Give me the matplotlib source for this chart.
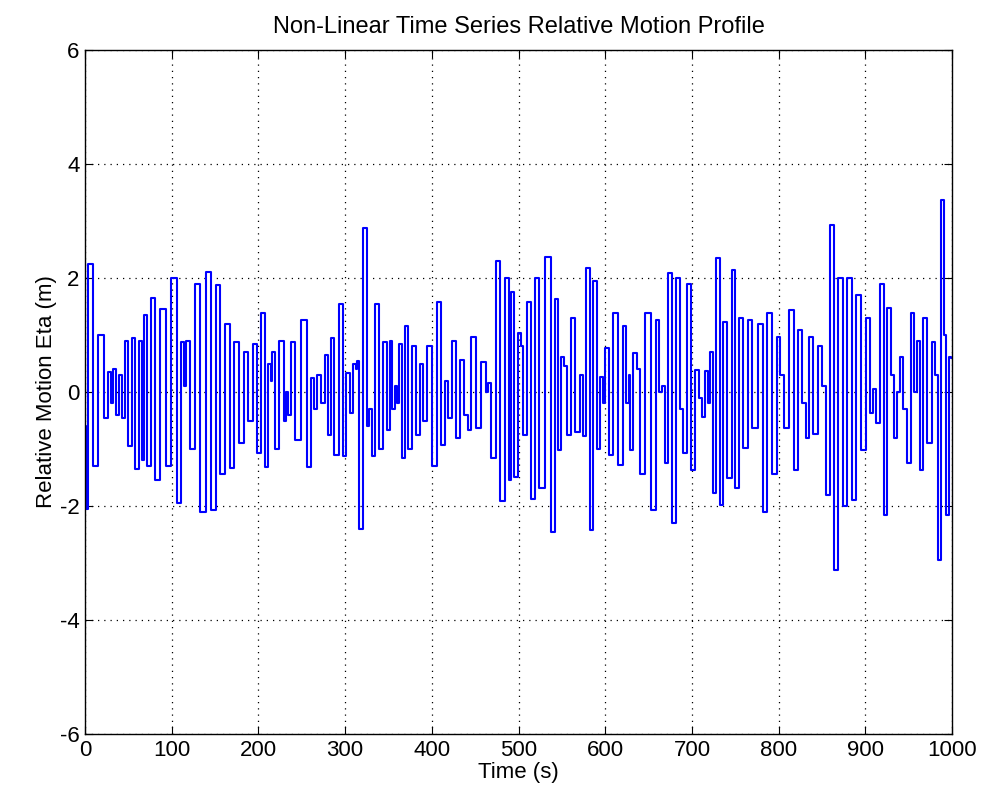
import matplotlib
matplotlib.use('Agg')
import matplotlib.pyplot as plt

# Extrema of the relative motion signal (time in s, eta in m)
t_0 = [0, 1.5, 6, 11.5, 19, 24, 28, 31, 34, 37, 41, 44, 48, 52, 56, 60, 64, 67, 70, 74, 79, 83, 90, 96, 103]
eta_0 = [-0.6, -2.05, 2.25, -1.3, 1.0, -0.45, 0.35, -0.2, 0.4, -0.4, 0.3, -0.45, 0.9, -0.95, 0.95, -1.35, 0.9, -1.2, 1.35, -1.3, 1.65, -1.55, 1.45, -1.3, 2.0]

t_1 = [109, 113, 116, 118, 123, 130, 136, 142, 148, 153, 159, 165, 169, 174, 180, 186, 191, 196, 200, 205]
eta_1 = [-1.95, 0.88, 0.1, 0.9, -1.0, 1.9, -2.1, 2.1, -2.07, 1.88, -1.43, 1.2, -1.34, 0.88, -0.9, 0.7, -0.5, 0.85, -1.07, 1.38]

t_2 = [209.5, 213, 215, 217, 221, 227, 231, 233, 235, 239, 246, 253, 258, 263, 266, 270, 274, 279, 282, 285, 290, 295, 299]
eta_2 = [-1.31, 0.5, 0.2, 0.7, -1.0, 0.9, -0.5, 0.0, -0.4, 0.88, -0.84, 1.26, -1.31, 0.25, -0.3, 0.3, -0.2, 0.65, -0.75, 0.94, -1.1, 1.55, -1.13]

t_3 = [304, 308, 311, 313, 315, 318, 323, 327, 329, 332, 336, 342, 346, 350, 353, 356, 359, 361, 364, 367, 370, 375, 379, 385, 388, 391, 397, 404]
eta_3 = [0.33, -0.37, 0.5, 0.4, 0.55, -2.4, 2.87, -0.6, -0.3, -1.13, 1.55, -1.0, 0.88, -0.67, 0.9, -0.3, 0.1, -0.2, 0.85, -1.16, 1.15, -1.0, 0.8, -0.75, 0.5, -0.5, 0.8, -1.3]

t_4 = [409, 413, 417, 421, 426, 430, 434, 440, 443, 448, 453, 460, 464, 466, 471, 476, 481, 487, 490, 493, 497]
eta_4 = [1.58, -0.93, 0.2, -0.46, 0.9, -0.8, 0.56, -0.4, -0.67, 0.97, -0.64, 0.53, 0.0, 0.15, -1.15, 2.29, -1.92, 2.0, -1.55, 1.76, -1.5]

t_5 = [501, 504, 507, 512, 516, 521, 527, 534.5, 540, 544, 548, 551, 554, 557.5, 563, 568, 573, 575.6, 580, 584, 588, 592, 596, 598, 602]
eta_5 = [1.03, 0.8, -0.75, 1.58, -1.87, 2.0, -1.69, 2.37, -2.45, 1.64, -1.02, 0.62, 0.45, -0.75, 1.3, -0.7, 0.3, -0.78, 2.17, -2.42, 1.94, -1.0, 0.27, -0.2, 0.77]

t_6 = [606.7, 611.7, 617.5, 622.5, 626, 628, 630, 635, 638, 642.5, 649, 656, 660, 664, 667, 670, 675, 679, 684, 688, 692, 697, 701]
eta_6 = [-1.1, 1.38, -1.28, 1.15, -0.2, 0.3, -1.02, 0.68, 0.4, -1.43, 1.38, -2.07, 1.26, 0.0, 0.1, -1.25, 2.08, -2.3, 2.0, -0.3, -1.07, 1.9, -1.37]

t_7 = [706, 710, 713, 717, 719, 722, 725.5, 730, 734, 738, 743.6, 748, 752.4, 757, 761.6, 766.7, 772.4, 779.3, 784.7, 788.6, 795.5, 800]
eta_7 = [0.39, -0.1, -0.43, 0.36, -0.2, 0.7, -1.78, 2.35, -1.98, 1.23, -1.51, 2.14, -1.69, 1.29, -0.99, 1.26, -0.64, 1.2, -2.1, 1.38, -1.43, 0.97]

t_8 = [804, 809, 815, 820, 824.6, 829, 833, 837, 842.7, 849, 852, 856.6, 861, 865.8, 870.8, 876.6, 881, 887.3, 892, 897.7, 903]
eta_8 = [0.3, -0.64, 1.44, -1.37, 1.09, -0.2, -0.81, 0.97, -0.73, 0.8, 0.1, -1.8, 2.93, -3.12, 2.0, -2.0, 2.0, -1.9, 1.7, -1.02, 1.3]

t_9 = [907.7, 910, 914, 919, 923, 927.7, 931, 934.7, 938, 942, 946, 950, 954.7, 958, 961, 964.7, 968.5, 974, 979, 982, 985.4, 988.5, 992, 995, 998, 1000]
eta_9 = [-0.37, 0.05, -0.55, 1.9, -2.16, 1.47, 0.3, -0.81, 0.0, 0.62, -0.3, -1.25, 1.38, 0.0, 0.9, -1.37, 1.29, -0.9, 0.88, 0.3, -2.95, 3.37, 1.0, -2.16, 0.62, 0.6]

time = t_0 + t_1 + t_2 + t_3 + t_4 + t_5 + t_6 + t_7 + t_8 + t_9
eta = eta_0 + eta_1 + eta_2 + eta_3 + eta_4 + eta_5 + eta_6 + eta_7 + eta_8 + eta_9

xticks = [0, 100, 200, 300, 400, 500, 600, 700, 800, 900, 1000]
yticks = [-6, -4, -2, 0, 2, 4, 6]

plt.rcParams['font.family'] = ['Liberation Sans', 'DejaVu Sans']
plt.rcParams['axes.unicode_minus'] = False

fig = plt.figure(figsize=(9.82, 8.08), dpi=100)
ax = fig.add_axes([0.0866, 0.0916, 0.8829, 0.8465])

# matlab-ish look: near vertical strokes with short flat tops
ax.plot(time, eta, color='#0000ff', linewidth=1.5, drawstyle='steps-mid')

ax.set_xlim(0, 1000)
ax.set_ylim(-6, 6)
ax.set_xticks(xticks)
ax.set_yticks(yticks)
ax.grid(True, color='black', linestyle=(0, (1, 4)), linewidth=0.9)
ax.tick_params(direction='in', top=True, right=True, length=6, labelsize=16, colors='black', pad=4)
for s in ax.spines.values():
    s.set_linewidth(1.0)

ax.set_title('Non-Linear Time Series Relative Motion Profile', fontsize=17, pad=12)
ax.set_xlabel('Time (s)', fontsize=16, labelpad=1)
ax.set_ylabel('Relative Motion Eta (m)', fontsize=16, labelpad=2)

fig.savefig('out.png', dpi=100)
